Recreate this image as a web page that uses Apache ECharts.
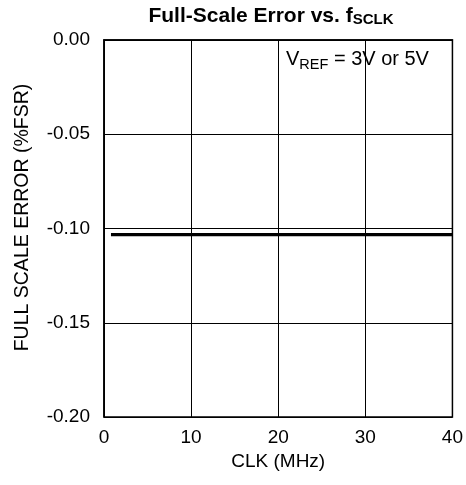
<!DOCTYPE html>
<html>
<head>
<meta charset="utf-8">
<script src="https://cdn.jsdelivr.net/npm/echarts@6/dist/echarts.min.js"></script>
<style>html,body{margin:0;padding:0;background:#fff;}#c{width:466px;height:485px;}</style>
</head>
<body>
<div id="c"></div>
<script>
var clkMHz = [0.8, 40];
var errVref3 = [-0.1029, -0.1029];
var errVref5 = [-0.1036, -0.1036];
var yTicks = [0, -0.05, -0.10, -0.15, -0.20];
var xTicks = [0, 10, 20, 30, 40];

var chart = echarts.init(document.getElementById('c'));
var font = 'Liberation Sans, Arial, sans-serif';
function pts(xs, ys) { return xs.map(function (x, i) { return [x, ys[i]]; }); }
chart.setOption({
  animation: false,
  backgroundColor: '#fff',
  title: [{
    text: '{a|Full-Scale Error vs. f}{b|SCLK}',
    left: 266, top: -2, textAlign: 'center',
    textStyle: {
      rich: {
        a: { fontFamily: font, fontSize: 21, fontWeight: 'bold', color: '#000', lineHeight: 26 },
        b: { fontFamily: font, fontSize: 15, fontWeight: 'bold', color: '#000', lineHeight: 26, padding: [8, 0, 0, 0] }
      }
    }
  }, {
    text: '{a|V}{b|REF}{a| = 3V or 5V}',
    left: 281, top: 43,
    textStyle: {
      fontWeight: 'normal',
      rich: {
        a: { fontFamily: font, fontSize: 20, fontWeight: 'normal', color: '#000', lineHeight: 22 },
        b: { fontFamily: font, fontSize: 14.5, fontWeight: 'normal', color: '#000', lineHeight: 22, padding: [11, 0, 0, 0] }
      }
    }
  }],
  grid: { left: 104, right: 13, top: 40, bottom: 68, show: true, borderColor: '#000', borderWidth: 1.5, backgroundColor: 'transparent' },
  xAxis: {
    type: 'value', min: xTicks[0], max: xTicks[xTicks.length - 1], interval: 10,
    name: 'CLK (MHz)', nameLocation: 'middle', nameGap: 33,
    nameTextStyle: { fontFamily: font, fontSize: 19, color: '#000' },
    axisLine: { show: true, lineStyle: { color: '#000', width: 1.5 } },
    axisTick: { show: false },
    axisLabel: { fontFamily: font, fontSize: 19, color: '#000', margin: 11 },
    splitLine: { show: true, lineStyle: { color: '#000', width: 1 } }
  },
  yAxis: {
    type: 'value', min: yTicks[yTicks.length - 1], max: yTicks[0], interval: 0.05,
    name: 'FULL SCALE ERROR (%FSR)', nameLocation: 'middle', nameGap: 71,
    nameTextStyle: { fontFamily: font, fontSize: 19.5, color: '#000', padding: [0, 0, 0, 22] },
    axisLine: { show: true, lineStyle: { color: '#000', width: 1.5 } },
    axisTick: { show: false },
    axisLabel: { fontFamily: font, fontSize: 19, color: '#000', margin: 14, formatter: function (v) { return v.toFixed(2); } },
    splitLine: { show: true, lineStyle: { color: '#000', width: 1 } }
  },
  series: [
    { type: 'line', data: pts(clkMHz, errVref3), symbol: 'none', lineStyle: { color: '#000', width: 2 } },
    { type: 'line', data: pts(clkMHz, errVref5), symbol: 'none', lineStyle: { color: '#000', width: 2 } }
  ]
});
</script>
</body>
</html>
